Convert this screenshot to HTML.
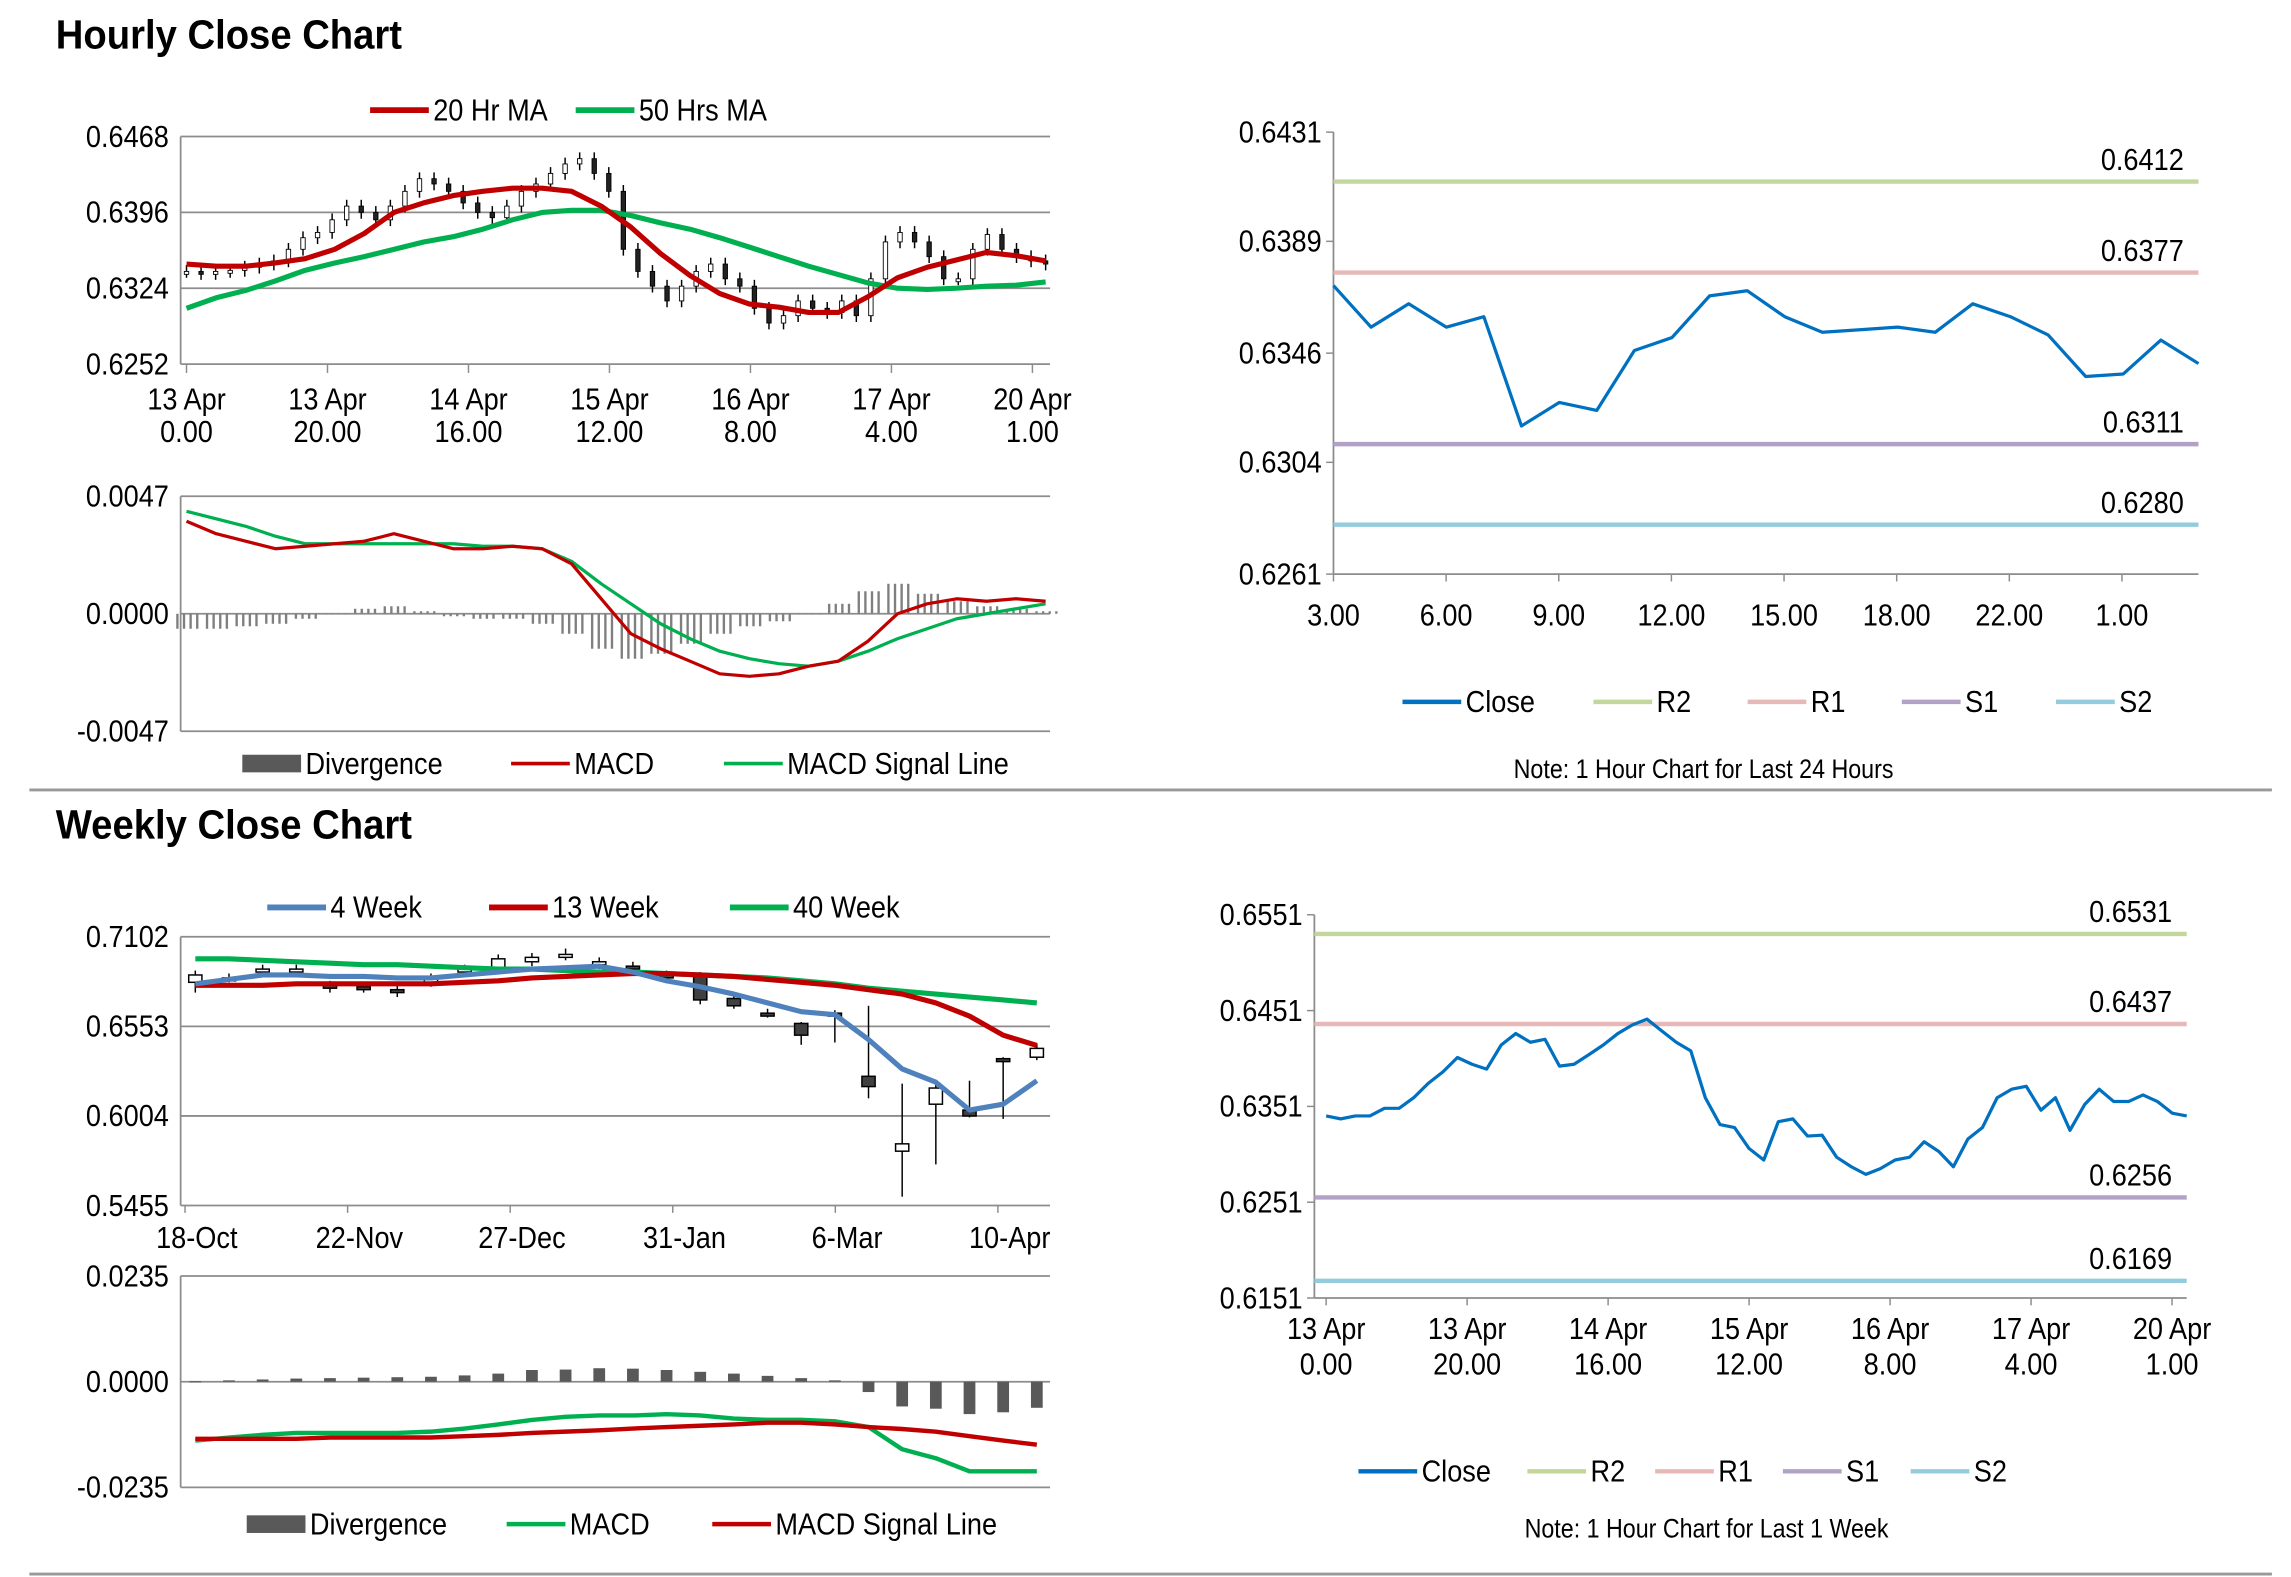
<!DOCTYPE html>
<html><head><meta charset="utf-8"><title>Close Charts</title>
<style>
html,body{margin:0;padding:0;background:#fff;}
svg{display:block;}
text{font-family:"Liberation Sans Narrow","Liberation Sans",sans-serif;fill:#000;transform-box:fill-box;}
.t{font-size:21px;transform:scaleX(.88);transform-origin:left center;}
.t[text-anchor=end]{transform-origin:right center;}
.t[text-anchor=middle]{transform-origin:center center;}
.title{font-family:"Liberation Sans",sans-serif;font-weight:bold;font-size:28px;transform:scaleX(.93);transform-origin:left center;}
</style></head>
<body>
<svg id="s" width="2291" height="1577" viewBox="0 0 1560 1074" preserveAspectRatio="none" xmlns="http://www.w3.org/2000/svg">
<text class="title" x="38" y="33">Hourly Close Chart</text>
<text class="title" x="38" y="571">Weekly Close Chart</text>
<line x1="20" y1="538" x2="1547" y2="538" stroke="#999" stroke-width="2"/>
<line x1="20" y1="1072" x2="1547" y2="1072" stroke="#999" stroke-width="2"/>
<text class="t" x="1160" y="530" text-anchor="middle" style="font-size:18px">Note: 1 Hour Chart for Last 24 Hours</text>
<text class="t" x="1162" y="1047" text-anchor="middle" style="font-size:18px">Note: 1 Hour Chart for Last 1 Week</text>
</svg>
<script>
// ---------- data ----------
const hourlyCloses = [.6340,.6338,.6340,.6341,.6344,.6347,.6350,.6361,.6372,.6377,.6389,.6402,.6396,.6389,.6402,.6416,.6428,.6423,.6416,.6405,.6396,.6391,.6402,.6416,.6423,.6433,.6442,.6447,.6433,.6416,.6361,.6340,.6326,.6312,.6326,.6340,.6347,.6333,.6326,.6305,.6291,.6298,.6312,.6305,.6301,.6312,.6298,.6333,.6368,.6377,.6368,.6354,.6333,.6333,.6361,.6375,.6361,.6354,.6350,.6347];
const ma20 = [.6347,.6345,.6345,.6348,.6352,.6361,.6376,.6396,.6405,.6412,.6416,.6419,.6419,.6416,.6402,.6382,.6357,.6336,.6319,.6309,.6306,.6301,.6301,.6316,.6334,.6344,.6351,.6358,.6355,.6350];
const ma50 = [.6305,.6315,.6322,.6331,.6341,.6348,.6354,.6361,.6368,.6373,.6380,.6389,.6396,.6398,.6398,.6393,.6386,.6380,.6372,.6363,.6354,.6345,.6337,.6329,.6324,.6323,.6324,.6326,.6327,.6330];
const hourlyYTicks = [0.6468,0.6396,0.6324,0.6252];
const hourlyXTicks = [["13 Apr","0.00"],["13 Apr","20.00"],["14 Apr","16.00"],["15 Apr","12.00"],["16 Apr","8.00"],["17 Apr","4.00"],["20 Apr","1.00"]];
const hMacd = [.0037,.0032,.0029,.0026,.0027,.0028,.0029,.0032,.0029,.0026,.0026,.0027,.0026,.0020,.0006,-.0008,-.0014,-.0019,-.0024,-.0025,-.0024,-.0021,-.0019,-.0011,.0000,.0004,.0006,.0005,.0006,.0005];
const hSignal = [.0041,.0038,.0035,.0031,.0028,.0028,.0028,.0028,.0028,.0028,.0027,.0027,.0026,.0021,.0012,.0004,-.0004,-.0010,-.0015,-.0018,-.0020,-.0021,-.0019,-.0015,-.0010,-.0006,-.0002,.0000,.0002,.0004];
const hDiv = [-.0006,-.0006,-.0005,-.0004,-.0002,.0000,.0002,.0003,.0001,-.0001,-.0002,-.0002,-.0004,-.0008,-.0014,-.0018,-.0016,-.0012,-.0008,-.0005,-.0003,.0000,.0004,.0009,.0012,.0008,.0005,.0003,.0002,.0001];
const hMacdTicks = [0.0047,0,-0.0047];

const day24Close = [.6372,.6356,.6365,.6356,.6360,.6318,.6327,.6324,.6347,.6352,.6368,.6370,.6360,.6354,.6355,.6356,.6354,.6365,.6360,.6353,.6337,.6338,.6351,.6342];
const day24Levels = [0.6412,0.6377,0.6311,0.6280];
const day24YTicks = [0.6431,0.6389,0.6346,0.6304,0.6261];
const day24XTicks = ["3.00","6.00","9.00","12.00","15.00","18.00","22.00","1.00"];

const wOpen = [.6823,.6850,.6895,.6895,.6805,.6796,.6778,.6823,.6895,.6904,.6949,.6985,.6931,.6922,.6868,.6859,.6724,.6634,.6571,.6634,.6247,.5788,.6076,.6040,.6355,.6364];
const wClose = [.6868,.6850,.6904,.6904,.6787,.6787,.6760,.6850,.6904,.6967,.6976,.6994,.6949,.6904,.6850,.6715,.6679,.6625,.6499,.6625,.6184,.5833,.6175,.6004,.6346,.6418];
const wHigh = [.6895,.6877,.6931,.6931,.6832,.6823,.6805,.6877,.6931,.6994,.7003,.7030,.6976,.6949,.6895,.6886,.6742,.6661,.6580,.6652,.6679,.6202,.6202,.6220,.6364,.6445];
const wLow = [.6760,.6823,.6868,.6868,.6760,.6760,.6733,.6796,.6868,.6877,.6922,.6958,.6904,.6877,.6823,.6688,.6661,.6607,.6440,.6454,.6112,.5509,.5707,.5995,.5986,.6346];
const w4 = [.6814,.6841,.6868,.6868,.6859,.6859,.6850,.6850,.6868,.6886,.6904,.6913,.6922,.6886,.6832,.6796,.6751,.6697,.6643,.6625,.6472,.6292,.6211,.6040,.6076,.6220];
const w13 = [.6805,.6805,.6805,.6814,.6814,.6814,.6814,.6814,.6823,.6832,.6850,.6859,.6868,.6877,.6877,.6868,.6859,.6841,.6823,.6805,.6778,.6751,.6697,.6616,.6499,.6436];
const w40 = [.6967,.6967,.6958,.6949,.6940,.6931,.6931,.6922,.6913,.6904,.6904,.6895,.6886,.6886,.6877,.6868,.6859,.6850,.6832,.6814,.6787,.6769,.6751,.6733,.6715,.6697];
const weeklyYTicks = [0.7102,0.6553,0.6004,0.5455];
const weeklyXTicks = ["18-Oct","22-Nov","27-Dec","31-Jan","6-Mar","10-Apr"];
const wDiv = [.0001,.0003,.0005,.0007,.0008,.0009,.0010,.0011,.0014,.0018,.0026,.0027,.0030,.0029,.0026,.0022,.0018,.0013,.0008,.0003,-.0023,-.0055,-.0060,-.0072,-.0068,-.0058];
const wMacd = [-.0131,-.0124,-.0118,-.0114,-.0114,-.0114,-.0114,-.0111,-.0104,-.0095,-.0085,-.0078,-.0075,-.0075,-.0072,-.0075,-.0082,-.0085,-.0085,-.0088,-.0101,-.0150,-.0170,-.0199,-.0199,-.0199];
const wSignal = [-.0127,-.0127,-.0127,-.0127,-.0124,-.0124,-.0124,-.0124,-.0121,-.0118,-.0114,-.0111,-.0108,-.0104,-.0101,-.0098,-.0095,-.0091,-.0091,-.0095,-.0101,-.0105,-.0111,-.0121,-.0131,-.0140];
const wMacdTicks = [0.0235,0,-0.0235];

const weekClose = [.6341,.6338,.6341,.6341,.6349,.6349,.6360,.6375,.6387,.6402,.6395,.6390,.6415,.6427,.6418,.6421,.6393,.6395,.6405,.6415,.6427,.6436,.6442,.6430,.6418,.6409,.6360,.6332,.6329,.6307,.6295,.6335,.6338,.6320,.6321,.6298,.6288,.6280,.6286,.6295,.6298,.6314,.6304,.6288,.6317,.6329,.6360,.6369,.6372,.6347,.6360,.6326,.6353,.6369,.6356,.6356,.6363,.6356,.6344,.6341];
const weekLevels = [0.6531,0.6437,0.6256,0.6169];
const weekYTicks = [0.6551,0.6451,0.6351,0.6251,0.6151];
const weekXTicks = [["13 Apr","0.00"],["13 Apr","20.00"],["14 Apr","16.00"],["15 Apr","12.00"],["16 Apr","8.00"],["17 Apr","4.00"],["20 Apr","1.00"]];

// ---------- helpers ----------
const S = document.getElementById('s');
const NS = 'http://www.w3.org/2000/svg';
function mk(tag, attrs, txt){const e=document.createElementNS(NS,tag);for(const k in attrs)e.setAttribute(k,attrs[k]);if(txt!==undefined)e.textContent=txt;S.appendChild(e);return e;}
function lin(d0,d1,r0,r1){return v=>r0+(v-d0)*(r1-r0)/(d1-d0);}
function pts(arr,fx,fy){return arr.map((v,i)=>fx(i).toFixed(1)+','+fy(v).toFixed(1)).join(' ');}
const levelColors=['#c3d69b','#e6b9b8','#b3a2c7','#93cddd'];
const levelNames=['r2-line','r1-line','s1-line','s2-line'];

function yAxis(ticks,fy,x0,x1,grid,fmt,prefix){
  ticks.forEach(t=>{
    if(grid){const g=mk('line',{x1:x0,x2:x1,y1:fy(t),y2:fy(t),stroke:'#8c8c8c','stroke-width':1.2});
      
      }
    const tx=mk('text',{class:'t',x:x0-8,y:fy(t)+7,'text-anchor':'end'},fmt(t));
    
    
  });
}
function axisLine(x1,y1,x2,y2,name){const l=mk('line',{x1,y1,x2,y2,stroke:'#8c8c8c','stroke-width':1.2});
  
  }
function poly(arr,fx,fy,color,w,name){const p=mk('polyline',{points:pts(arr,fx,fy),fill:'none',stroke:color,'stroke-width':w,'stroke-linejoin':'round'});
  
  }
function legendLine(x,y,color,label,name,w){const l=mk('line',{x1:x,x2:x+40,y1:y,y2:y,stroke:color,'stroke-width':w||4});
  
  
  const t=mk('text',{class:'t',x:x+43,y:y+7},label);
  
  }
function legendBlock(x,y,label,name){const r=mk('rect',{x:x,y:y-6,width:40,height:12,fill:'#595959'});
  
  
  const t=mk('text',{class:'t',x:x+43,y:y+7},label);
  
  }

// ---------- hourly price chart ----------
(function(){
  const x0=123,x1=715;
  const fy=lin(0.6252,0.6468,248,93);
  yAxis(hourlyYTicks,fy,x0,x1,true,v=>v.toFixed(4),'hourly');
  axisLine(x0,93,x0,248,'hourly-y-axis');
  const fxT=i=>127+i*96;
  hourlyXTicks.forEach((t,i)=>{
    const tk=mk('line',{x1:fxT(i),x2:fxT(i),y1:248,y2:254,stroke:'#8c8c8c'});
    
    
    const a=mk('text',{class:'t',x:fxT(i),y:279,'text-anchor':'middle'},t[0]);
    
    
    const b=mk('text',{class:'t',x:fxT(i),y:301,'text-anchor':'middle'},t[1]);
    
    
  });
  const fc=i=>127+i*(585/(hourlyCloses.length-1));
  hourlyCloses.forEach((c,i)=>{
    const o=i?hourlyCloses[i-1]:c;
    const hi=Math.max(o,c)+0.0006, lo=Math.min(o,c)-0.0006;
    const w=mk('line',{x1:fc(i),x2:fc(i),y1:fy(hi),y2:fy(lo),stroke:'#000','stroke-width':1});
    
    
    const top=fy(Math.max(o,c)),h=Math.max(2,Math.abs(fy(o)-fy(c)));
    const r=mk('rect',{x:fc(i)-1.5,y:top,width:3,height:h,fill:c>=o?'#fff':'#222',stroke:'#000','stroke-width':0.6});
    
    
  });
  const fm=i=>127+i*(585/(ma20.length-1));
  poly(ma50,fm,fy,'#00b050',3.5,'ma50-line');
  poly(ma20,fm,fy,'#c00000',3.5,'ma20-line');
  legendLine(252,75,'#c00000','20 Hr MA','legend-ma20');
  legendLine(392,75,'#00b050','50 Hrs MA','legend-ma50');
})();

// ---------- hourly MACD ----------
(function(){
  const x0=123,x1=715;
  const fy=lin(-0.0047,0.0047,498,338);
  yAxis(hMacdTicks,fy,x0,x1,true,v=>v.toFixed(4),'hourly-macd');
  axisLine(x0,338,x0,498,'hourly-macd-y-axis');
  const step=585/(hDiv.length-1);
  hDiv.forEach((v,i)=>{
    for(let k=0;k<4;k++){
      const xx=127+i*step-7+k*4.5;
      const b=mk('rect',{x:xx,y:Math.min(fy(v),fy(0)),width:1.6,height:Math.max(0.5,Math.abs(fy(v)-fy(0))),fill:'#7f7f7f'});
      
      
    }
  });
  const fm=i=>127+i*step;
  poly(hSignal,fm,fy,'#00b050',2.2,'hourly-signal-line');
  poly(hMacd,fm,fy,'#c00000',2.2,'hourly-macd-line');
  legendBlock(165,520,'Divergence','legend-hourly-divergence');
  legendLine(348,520,'#c00000','MACD','legend-hourly-macd',2.5);
  legendLine(493,520,'#00b050','MACD Signal Line','legend-hourly-signal',2.5);
})();

// ---------- level charts ----------
function levelChart(cfg){
  const fy=lin(cfg.yMin,cfg.yMax,cfg.yb,cfg.yt);
  yAxis(cfg.yTicks,fy,cfg.x0,cfg.x1,false,v=>v.toFixed(4),cfg.prefix);
  axisLine(cfg.x0,cfg.yt,cfg.x0,cfg.yb,cfg.prefix+'-y-axis');
  axisLine(cfg.x0,cfg.yb,cfg.x1,cfg.yb,cfg.prefix+'-x-axis');
  cfg.yTicks.forEach(t=>{const k=mk('line',{x1:cfg.x0-5,x2:cfg.x0,y1:fy(t),y2:fy(t),stroke:'#8c8c8c'});
    
    });
  cfg.levels.forEach((v,i)=>{
    const l=mk('line',{x1:cfg.x0,x2:cfg.x1,y1:fy(v),y2:fy(v),stroke:levelColors[i],'stroke-width':3});
    
    
    const t=mk('text',{class:'t',x:cfg.x1-10,y:fy(v)-8,'text-anchor':'end'},v.toFixed(4));
    
    
  });
  const fx=i=>cfg.cx0+i*(cfg.cx1-cfg.cx0)/(cfg.data.length-1);
  poly(cfg.data,fx,fy,'#0070c0',2.2,cfg.prefix+'-close-line');
  cfg.xTicks.forEach((t,i)=>{
    const xx=cfg.tx0+i*cfg.tstep;
    const k=mk('line',{x1:xx,x2:xx,y1:cfg.yb,y2:cfg.yb+5,stroke:'#8c8c8c'});
    
    
    if(Array.isArray(t)){
      const a=mk('text',{class:'t',x:xx,y:cfg.yb+28,'text-anchor':'middle'},t[0]);
      
      
      const b=mk('text',{class:'t',x:xx,y:cfg.yb+52,'text-anchor':'middle'},t[1]);
      
      
    } else {
      const a=mk('text',{class:'t',x:xx,y:cfg.yb+35,'text-anchor':'middle'},t);
      
      
    }
  });
  const ly=cfg.ly, lx=cfg.lx, sp=cfg.lsp;
  legendLine(lx,ly,'#0070c0','Close',cfg.prefix+'-legend-close',3);
  ['R2','R1','S1','S2'].forEach((n,i)=>legendLine(lx+cfg.lgap+sp*i,ly,levelColors[i],n,cfg.prefix+'-legend-'+n.toLowerCase(),3));
}
levelChart({prefix:'day24',x0:908,x1:1497,yt:90,yb:391,yMin:0.6261,yMax:0.6431,yTicks:day24YTicks,levels:day24Levels,data:day24Close,cx0:908,cx1:1497,xTicks:day24XTicks,tx0:908,tstep:76.7,lx:955,ly:478,lsp:105,lgap:130});
levelChart({prefix:'week',x0:895,x1:1489,yt:623,yb:884,yMin:0.6151,yMax:0.6551,yTicks:weekYTicks,levels:weekLevels,data:weekClose,cx0:903,cx1:1489,xTicks:weekXTicks,tx0:903,tstep:96,lx:925,ly:1002,lsp:87,lgap:115});

// ---------- weekly price chart ----------
(function(){
  const x0=123,x1=715;
  const fy=lin(0.5455,0.7102,821,638);
  yAxis(weeklyYTicks,fy,x0,x1,true,v=>v.toFixed(4),'weekly');
  axisLine(x0,638,x0,821,'weekly-y-axis');
  weeklyXTicks.forEach((t,i)=>{
    const xx=126+i*110.7;
    const k=mk('line',{x1:xx,x2:xx,y1:821,y2:826,stroke:'#8c8c8c'});
    
    
    const a=mk('text',{class:'t',x:xx+8,y:850,'text-anchor':'middle'},t);
    
    
  });
  const fx=i=>133+i*(573/(wOpen.length-1));
  wOpen.forEach((o,i)=>{
    const c=wClose[i];
    const w=mk('line',{x1:fx(i),x2:fx(i),y1:fy(wHigh[i]),y2:fy(wLow[i]),stroke:'#000','stroke-width':1});
    
    
    const top=fy(Math.max(o,c)),h=Math.max(2,Math.abs(fy(o)-fy(c)));
    const r=mk('rect',{x:fx(i)-4.5,y:top,width:9,height:h,fill:c>=o?'#fff':'#404040',stroke:'#000','stroke-width':1});
    
    
  });
  poly(w40,fx,fy,'#00b050',3.5,'wk40-line');
  poly(w13,fx,fy,'#c00000',3.5,'wk13-line');
  poly(w4,fx,fy,'#4f81bd',3.5,'wk4-line');
  legendLine(182,618,'#4f81bd','4 Week','legend-4week');
  legendLine(333,618,'#c00000','13 Week','legend-13week');
  legendLine(497,618,'#00b050','40 Week','legend-40week');
})();

// ---------- weekly MACD ----------
(function(){
  const x0=123,x1=715;
  const fy=lin(-0.0235,0.0235,1013,869);
  yAxis(wMacdTicks,fy,x0,x1,true,v=>v.toFixed(4),'weekly-macd');
  axisLine(x0,869,x0,1013,'weekly-macd-y-axis');
  const fx=i=>133+i*(573/(wDiv.length-1));
  wDiv.forEach((v,i)=>{
    const b=mk('rect',{x:fx(i)-4,y:Math.min(fy(v),fy(0)),width:8,height:Math.max(0.8,Math.abs(fy(v)-fy(0))),fill:'#595959'});
    
    
  });
  poly(wMacd,fx,fy,'#00b050',3,'weekly-macd-line');
  poly(wSignal,fx,fy,'#c00000',3,'weekly-signal-line');
  legendBlock(168,1038,'Divergence','legend-weekly-divergence');
  legendLine(345,1038,'#00b050','MACD','legend-weekly-macd',3);
  legendLine(485,1038,'#c00000','MACD Signal Line','legend-weekly-signal',3);
})();
</script>
</body></html>
